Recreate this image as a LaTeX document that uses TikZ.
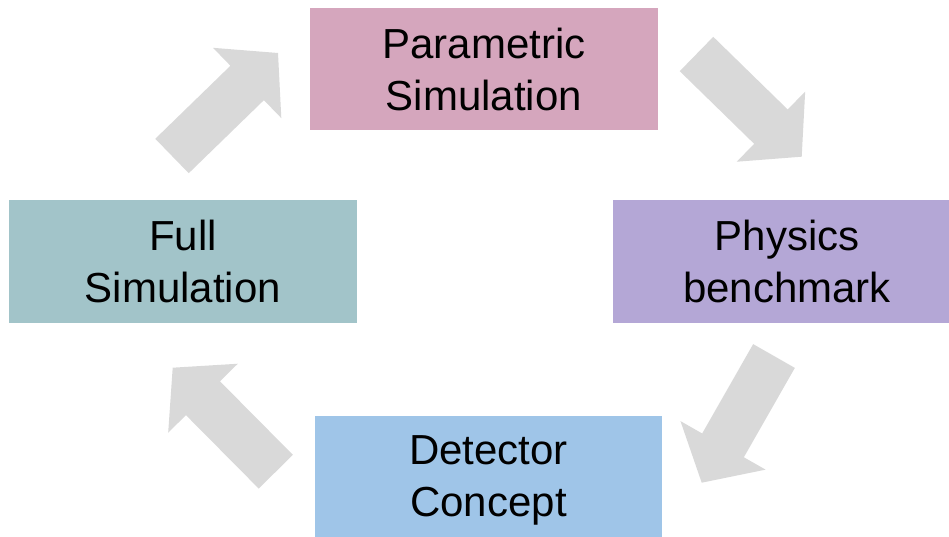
\documentclass[tikz,border=0pt]{standalone}
\usepackage{fontspec}
\setmainfont{Liberation Sans}
\usetikzlibrary{calc}
\definecolor{cpar}{HTML}{D5A6BD}
\definecolor{cphy}{HTML}{B4A7D6}
\definecolor{cful}{HTML}{A2C4C9}
\definecolor{cdet}{HTML}{9FC5E8}
\definecolor{carr}{HTML}{D9D9D9}
\tikzset{
  box/.style={fill=#1, draw=none, minimum width=348pt, minimum height=122pt, align=center, inner sep=0pt,
    text depth=0pt, font=\fontsize{42}{52}\selectfont},
}
\newcommand{\blockarr}[2]{%
  \fill[carr] ($(#1)!24pt!90:(#2)$) -- ($($(#2)!43pt!(#1)$)!24pt!-90:(#1)$)
    -- ($($(#2)!43pt!(#1)$)!49pt!-90:(#1)$) -- (#2)
    -- ($($(#2)!43pt!(#1)$)!49pt!90:(#1)$) -- ($($(#2)!43pt!(#1)$)!24pt!90:(#1)$)
    -- ($(#1)!24pt!-90:(#2)$) -- cycle;}
\begin{document}
\begin{tikzpicture}[x=1pt,y=-1pt]
\useasboundingbox (0,0) rectangle (949,537);
\node[box=cpar] (par) at (484,69) {Parametric\\Simulation};
\node[box=cphy] (phy) at (787,261.5) {Physics\\benchmark};
\node[box=cful] (ful) at (183,261.5) {Full\\Simulation};
\node[box=cdet, minimum width=347pt, minimum height=121pt] (det) at (488.5,476) {Detector\\Concept};
\coordinate (a1t) at (172,156); \coordinate (a1p) at (278,53);
\coordinate (a2t) at (696.5,54); \coordinate (a2p) at (801.7,156.7);
\coordinate (a3t) at (774,356); \coordinate (a3p) at (701.7,482.7);
\coordinate (a4t) at (275.8,471.7); \coordinate (a4p) at (172.7,367.7);
\blockarr{a1t}{a1p}
\blockarr{a2t}{a2p}
\blockarr{a3t}{a3p}
\blockarr{a4t}{a4p}
\end{tikzpicture}
\end{document}
